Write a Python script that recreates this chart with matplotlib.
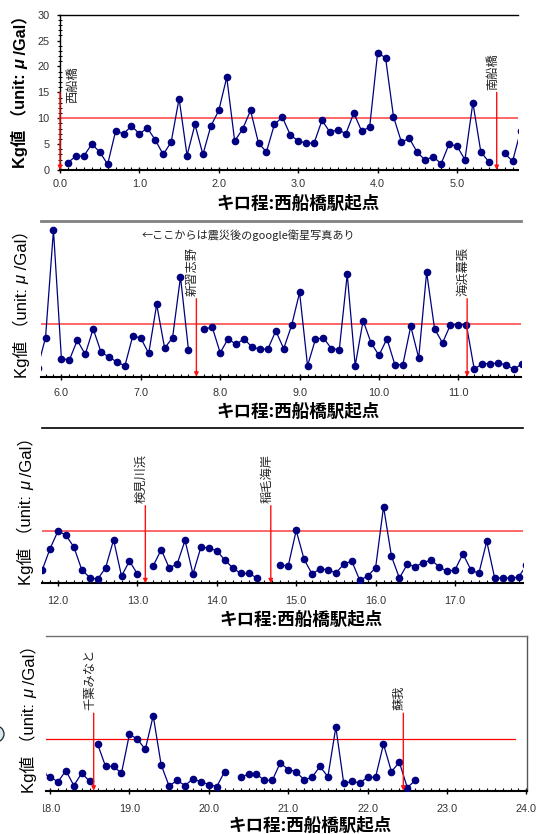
import numpy as np
import matplotlib
matplotlib.use('Agg')
import matplotlib.pyplot as plt
from matplotlib.ticker import MultipleLocator, FormatStrFormatter
from matplotlib.patches import Ellipse
from matplotlib.transforms import Bbox, TransformedBbox

# ---------------- data ----------------
km = np.round(np.arange(1, 227) * 0.1, 1)          # 0.1 ... 22.6 km
nan = np.nan
kg = np.array([
    1.4, 2.7, 2.7, 5.0, 3.5, 1.1, 7.5, 7.0, 8.5, 7.0,        # 0.1-1.0
    8.1, 5.8, 3.0, 5.4, 13.8, 2.8, 8.8, 3.0, 8.5, 11.5,      # 1.1-2.0
    17.9, 5.6, 7.9, 11.5, 5.2, 3.5, 8.8, 10.2, 6.8, 5.6,     # 2.1-3.0
    5.2, 5.2, 9.6, 7.3, 7.8, 7.0, 11.0, 7.5, 8.3, 22.6,      # 3.1-4.0
    21.7, 10.3, 5.4, 6.1, 3.4, 1.9, 2.6, 1.2, 5.0, 4.6,      # 4.1-5.0
    2.0, 13.0, 3.5, 1.6, nan, 3.2, 1.7, 7.5, 28.2, 3.5,      # 5.1-6.0
    3.2, 7.0, 4.3, 9.2, 4.7, 3.8, 2.8, 2.1, 7.9, 7.4,        # 6.1-7.0
    4.5, 13.9, 5.5, 7.5, 19.2, 5.2, nan, 9.2, 9.5, 4.6,      # 7.1-8.0
    7.3, 6.2, 7.3, 5.7, 5.3, 5.3, 8.8, 5.4, 9.9, 16.2,       # 8.1-9.0
    2.1, 7.2, 7.5, 5.4, 5.2, 19.7, 2.1, 10.8, 6.5, 4.1,      # 9.1-10.0
    7.3, 2.3, 2.3, 9.7, 3.6, 20.1, 9.2, 6.5, 10.0, 10.0,     # 10.1-11.0
    10.0, 1.4, 2.5, 2.5, 2.6, 2.3, 1.4, 2.5, 6.7, 10.1,      # 11.1-12.0
    9.3, 7.0, 2.6, 1.1, 0.8, 3.0, 8.4, 1.4, 4.3, 1.8,        # 12.1-13.0
    nan, 3.4, 6.5, 3.0, 3.7, 8.3, 1.8, 7.0, 6.8, 6.3,        # 13.1-14.0
    4.5, 3.0, 1.9, 1.9, 1.1, nan, nan, 3.5, 3.4, 10.2,       # 14.1-15.0
    4.6, 1.8, 2.8, 2.6, 2.0, 3.7, 4.3, 0.6, 1.4, 3.0,        # 15.1-16.0
    14.8, 5.2, 1.0, 3.7, 3.2, 4.0, 4.5, 3.2, 2.3, 2.6,       # 16.1-17.0
    5.7, 2.6, 1.9, 8.1, 1.0, 1.0, 1.0, 1.2, 3.5, 2.7,        # 17.1-18.0
    1.7, 3.9, 1.0, 3.4, 1.8, 9.0, 4.7, 4.7, 3.4, 10.9,       # 18.1-19.0
    10.0, 8.0, 14.5, 5.0, 0.9, 2.0, 1.0, 2.3, 1.7, 1.2,      # 19.1-20.0
    0.8, 3.7, nan, 2.6, 3.2, 3.2, 2.0, 2.0, 5.4, 4.1,        # 20.1-21.0
    3.7, 2.1, 2.6, 4.7, 2.7, 12.3, 1.4, 1.8, 1.5, 2.6,       # 21.1-22.0
    2.6, 9.0, 3.7, 5.5, 0.6, 2.0,                            # 22.1-22.6
])
gap_km = [18.55]            # line interrupted here (no measurement)

stations = ['西船橋', '南船橋', '新習志野', '海浜幕張', '検見川浜', '稲毛海岸', '千葉みなと', '蘇我']
station_km = [0.0, 5.5, 7.7, 11.11, 13.1, 14.68, 18.55, 22.45]
threshold = 10.1
arrow_top = 15.0
y_max = 30
y_major = 5
note_text = '←ここからは震災後のgoogle衛星写真あり'
xlabel_text = 'キロ程:西船橋駅起点'
ylabel_parts = ['Kg値 （unit: ', 'μ', ' /Gal）']

# insert gaps
km_all = km.astype(float)
kg_all = kg.copy()
for g in gap_km:
    i = np.searchsorted(km_all, g)
    km_all = np.insert(km_all, i, g)
    kg_all = np.insert(kg_all, i, np.nan)

# ---------------- layout ----------------
W, H, DPI = 536, 834, 100
PPK = 79.4   # pixels per km
NAVY = '#000080'
LAT = ['Liberation Sans', 'Noto Sans CJK JP']
JP = ['Noto Sans CJK JP', 'DejaVu Sans']

panels = [
    dict(box=(60, 14.7, 517.7, 170.0), ref=(0.0, 60.0), pad=4.3, ylab=(25.5, 168.0), bold=True,
         xlab=(298, 204), top=('black', 1.0), right=None, left=True,
         thr=dict(color='#ff5a5a', lw=1.3, xmax=None)),
    dict(box=(41, 220.7, 520.5, 376.7), ref=(6.0, 61.4), pad=5.5, ylab=(26.5, 378.0), bold=False,
         xlab=(298, 412), top=('#808080', 2.0), right=None, left=False,
         thr=dict(color='#ff5a5a', lw=1.3, xmax=None)),
    dict(box=(41.6, 428.0, 523.0, 583.3), ref=(12.0, 58.0), pad=6.8, ylab=(31.0, 585.0), bold=False,
         xlab=(301, 620), top=('black', 1.2), right=None, left=False,
         thr=dict(color='#ff5a5a', lw=1.3, xmax=None)),
    dict(box=(46, 635.7, 527.0, 790.7), ref=(18.0, 50.0), pad=7.4, ylab=(34.0, 793.0), bold=False,
         xlab=(310, 826), top=('#707070', 1.0), right=('#555555', 1.0), left=False,
         thr=dict(color='#ff0000', lw=0.9, xmax=23.86)),
]
label_off = {'西船橋': (9.5, -7.5)}   # points; default below
DEFAULT_OFF = (-3.0, 2.0)

plt.rcParams['font.family'] = LAT
fig = plt.figure(figsize=(W / DPI, H / DPI), dpi=DPI)


def fx(x):
    return x / W


def fy(y):
    return 1 - y / H


axes = []
for p in panels:
    l, t, r, b = p['box']
    ax = fig.add_axes([fx(l), fy(b), (r - l) / W, (b - t) / H])
    rk, rpx = p['ref']
    x0 = rk - (rpx - l) / PPK
    x1 = rk + (r - rpx) / PPK
    ax.set_xlim(x0, x1)
    ax.set_ylim(0, y_max)
    ax.patch.set_alpha(0)

    # threshold
    th = p['thr']
    xmax = 1.0 if th['xmax'] is None else (th['xmax'] - x0) / (x1 - x0)
    ax.axhline(threshold, xmin=0, xmax=xmax, color=th['color'], lw=th['lw'], zorder=2)

    # data
    ax.plot(km_all, kg_all, '-o', color=NAVY, lw=0.9, ms=4.5, mec=NAVY, mfc=NAVY, zorder=3)

    # stations
    for name, s in zip(stations, station_km):
        if x0 - 0.01 <= s <= x1:
            ax.annotate('', xy=(s, 0), xytext=(s, arrow_top),
                        arrowprops=dict(arrowstyle='-|>', color='#ff1010', lw=1.0,
                                        shrinkA=0, shrinkB=0, mutation_scale=6),
                        annotation_clip=False, zorder=5)
            ax.annotate(name, xy=(s, arrow_top), xytext=label_off.get(name, DEFAULT_OFF),
                        textcoords='offset points', rotation=90, ha='center', va='bottom',
                        fontsize=8.8, color='#222222', family=JP, zorder=5)

    # spines
    for sp in ax.spines.values():
        sp.set_visible(False)
    ax.spines['bottom'].set_visible(True)
    ax.spines['bottom'].set_linewidth(1.5)
    ax.spines['bottom'].set_color('black')
    ax.spines['top'].set_visible(True)
    ax.spines['top'].set_color(p['top'][0])
    ax.spines['top'].set_linewidth(p['top'][1])
    if p['right']:
        ax.spines['right'].set_visible(True)
        ax.spines['right'].set_color(p['right'][0])
        ax.spines['right'].set_linewidth(p['right'][1])
    if p['left']:
        ax.spines['left'].set_visible(True)
        ax.spines['left'].set_linewidth(1.0)

    # x ticks
    ax.xaxis.set_major_locator(MultipleLocator(1.0))
    ax.xaxis.set_minor_locator(MultipleLocator(0.1))
    ax.xaxis.set_major_formatter(FormatStrFormatter('%.1f'))
    ax.tick_params(axis='x', which='major', direction='inout', length=5, width=1.0,
                   labelsize=7.8, labelcolor='#333333', pad=p['pad'], top=False)
    ax.tick_params(axis='x', which='minor', direction='in', length=2.2, width=0.8, top=False)

    # y ticks
    if p['left']:
        ax.yaxis.set_major_locator(MultipleLocator(y_major))
        ax.yaxis.set_minor_locator(MultipleLocator(1))
        ax.tick_params(axis='y', which='major', direction='out', length=2.5, width=1.0,
                       labelsize=7.8, labelcolor='#333333', pad=5)
        ax.tick_params(axis='y', which='minor', direction='inout', length=2.5, width=0.7)
    else:
        ax.set_yticks([])
        ax.tick_params(axis='y', which='minor', left=False)

    # x label
    fig.text(fx(p['xlab'][0]), fy(p['xlab'][1]), xlabel_text, ha='center', va='center',
             fontsize=12.6, fontweight='bold', family=JP, color='black')
    axes.append(ax)

# note in panel 2
fig.text(fx(142), fy(235), note_text, ha='left', va='center', fontsize=8,
         color='#222222', family=JP)

# partial circle at left edge
fig.add_artist(Ellipse((fx(-4), fy(734)), 16 / W, 16 / H, transform=fig.transFigure,
                       fc='#d5eaf0', ec='#222222', lw=0.9))

# clip first tick label of last panel
fig.canvas.draw()
clipbox = TransformedBbox(Bbox([[fx(42.5), 0], [1, 1]]), fig.transFigure)
for lab in axes[3].get_xticklabels():
    lab.set_clip_box(clipbox)
    lab.set_clip_on(True)

# y labels (pieces so that mu can be italic)
renderer = fig.canvas.get_renderer()
for p in panels:
    bx, by = p['ylab']
    ycur = H - by      # display coordinate (origin bottom)
    for i, part in enumerate(ylabel_parts):
        txt = fig.text(bx / W, ycur / H, part, rotation=90, rotation_mode='anchor',
                       ha='left', va='baseline', fontsize=11.8 if p['bold'] else 12.0,
                       fontweight='bold' if p['bold'] else 'normal',
                       fontstyle='italic' if part == 'μ' else 'normal',
                       family=LAT, color='black')
        ext = txt.get_window_extent(renderer)
        ycur = ext.y1

fig.savefig('out.png', dpi=DPI)
